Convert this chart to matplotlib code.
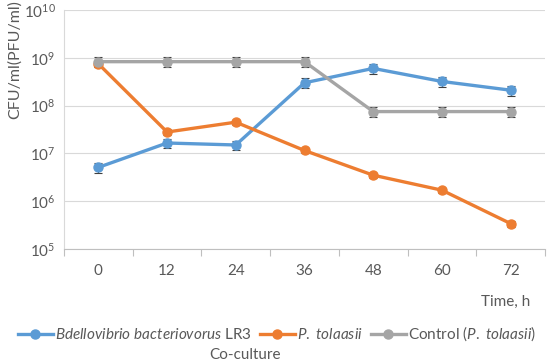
import matplotlib
matplotlib.use("Agg")
import matplotlib.pyplot as plt
import numpy as np

plt.rcParams['font.family'] = ['Lato', 'DejaVu Sans']
plt.rcParams['mathtext.fontset'] = 'custom'
plt.rcParams['mathtext.rm'] = 'Lato'
plt.rcParams['mathtext.it'] = 'Lato:italic'

times = ['0', '12', '24', '36', '48', '60', '72']
bdello = [5.1e6, 1.65e7, 1.5e7, 3.0e8, 6.0e8, 3.2e8, 2.1e8]
bdello_err = [1.2e6, 3.5e6, 3.5e6, 7e7, 1.4e8, 7e7, 5e7]
tolaasii = [7.5e8, 2.8e7, 4.5e7, 1.15e7, 3.5e6, 1.7e6, 3.4e5]
tolaasii_err = [1.0e8, 4e6, 6e6, 1.5e6, 4e5, 2e5, 5e4]
control = [8.3e8, 8.3e8, 8.3e8, 8.3e8, 7.5e7, 7.5e7, 7.5e7]
control_err = [2.0e8, 2.0e8, 2.0e8, 2.0e8, 1.8e7, 1.8e7, 1.8e7]

labels = [r'$\it{Bdellovibrio\ bacteriovorus}$ LR3',
          r'$\it{P.\ tolaasii}$',
          r'Control ($\it{P.\ tolaasii}$)']
colors = ['#5B9BD5', '#ED7D31', '#A5A5A5']
txt = '#595959'

fig = plt.figure(figsize=(5.5, 3.62), dpi=100)
ax = fig.add_axes([64/550, 1 - 249/362, (545-64)/550, (249-10)/362])

x = np.arange(len(times))
handles = []
for vals, errs, c, lab in [(bdello, bdello_err, colors[0], labels[0]),
                           (tolaasii, tolaasii_err, colors[1], labels[1]),
                           (control, control_err, colors[2], labels[2])]:
    ax.errorbar(x, vals, yerr=errs, fmt='none', ecolor='#404040',
                elinewidth=0.8, capsize=3, capthick=0.8, zorder=2)
    h, = ax.plot(x, vals, color=c, lw=2.4, marker='o', ms=6.5, zorder=3, label=lab)
    handles.append(h)

ax.set_yscale('log')
ax.set_ylim(1e5, 1e10)
ax.set_xlim(-0.5, len(times) - 0.5)
ax.set_yticks([1e5, 1e6, 1e7, 1e8, 1e9, 1e10])
ax.set_yticklabels([r'$10^{%d}$' % k for k in range(5, 11)])
ax.minorticks_off()
ax.set_xticks(x)
ax.set_xticklabels(times)
ax.set_xticks(np.arange(-0.5, len(times)), minor=True)
ax.tick_params(axis='x', which='major', length=0, pad=11, labelsize=11, labelcolor=txt)
ax.tick_params(axis='x', which='minor', length=5, color='#BFBFBF', width=0.8)
ax.tick_params(axis='y', length=0, pad=6, labelsize=11, labelcolor=txt)
ax.grid(axis='y', color='#D9D9D9', lw=0.8)
ax.set_axisbelow(True)
for s in ['top', 'right']:
    ax.spines[s].set_visible(False)
ax.spines['left'].set_color('#D9D9D9')
ax.spines['bottom'].set_color('#BFBFBF')

fig.text(15/550, 1 - 60/362, 'CFU/ml(PFU/ml)', rotation=90, ha='center', va='center',
         fontsize=11.5, color=txt)
fig.text(530/550, 1 - 302/362, 'Time, h', ha='right', va='center', fontsize=11, color=txt)
fig.text(245/550, 1 - 355/362, 'Co-culture', ha='center', va='center', fontsize=11, color=txt)

fig.legend(handles=handles, loc='center', bbox_to_anchor=(277/550, 1 - 334/362), ncol=3,
           frameon=False, fontsize=11, labelcolor=txt, handlelength=2.3,
           handletextpad=0.15, columnspacing=0.5, borderaxespad=0, borderpad=0)

fig.savefig('out.png', dpi=100)
